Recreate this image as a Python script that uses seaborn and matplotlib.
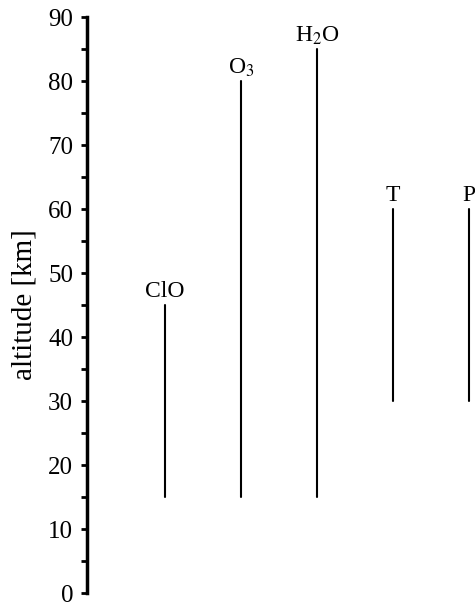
import matplotlib
matplotlib.use("Agg")
import matplotlib.pyplot as plt
from matplotlib.ticker import MultipleLocator
import pandas as pd
import seaborn as sns

# Altitude coverage of each retrieved quantity [km]
species = ["ClO", "O$_3$", "H$_2$O", "T", "P"]
alt_bottom = [15, 15, 15, 30, 30]
alt_top = [45, 80, 85, 60, 60]

sns.set_style("ticks")
plt.rcParams["font.family"] = ["Liberation Serif", "DejaVu Serif"]
plt.rcParams["mathtext.fontset"] = "stix"

rows = []
for i, name in enumerate(species):
    rows.append({"species": name, "pos": i + 1, "alt": alt_bottom[i]})
    rows.append({"species": name, "pos": i + 1, "alt": alt_top[i]})
df = pd.DataFrame(rows)

fig = plt.figure(figsize=(4.75, 6.03), dpi=100)
ax = fig.add_axes([87 / 475, 10 / 603, 1 - 87 / 475, 576 / 603])

sns.lineplot(data=df, x="pos", y="alt", units="species", estimator=None,
             color="black", linewidth=1.5, ax=ax, legend=False)

for i, name in enumerate(species):
    ax.text(i + 1, alt_top[i] + 1.2, name, ha="center", va="baseline",
            fontsize=17, color="black")

ax.set_xlim(1 - 78 / 76, 1 + 310 / 76)
ax.set_ylim(0, 90)
ax.yaxis.set_major_locator(MultipleLocator(10))
ax.yaxis.set_minor_locator(MultipleLocator(5))
ax.tick_params(axis="y", which="both", direction="out", length=4, width=2,
               labelsize=18, colors="black", pad=6)
ax.set_xticks([])
ax.set_xlabel("")
ax.set_ylabel("altitude [km]", fontsize=21, color="black")
ax.yaxis.set_label_coords(-(87 - 38) / 388, 0.5)

for side in ["top", "right", "bottom"]:
    ax.spines[side].set_visible(False)
ax.spines["left"].set_linewidth(2.5)
ax.spines["left"].set_color("black")
ax.patch.set_alpha(0)

fig.savefig("out.png", dpi=100)
